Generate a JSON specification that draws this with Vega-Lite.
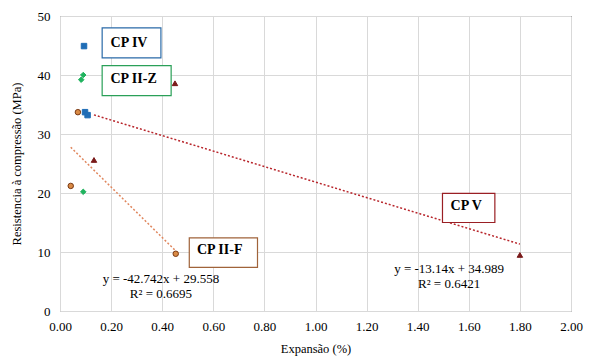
{
  "$schema": "https://vega.github.io/schema/vega-lite/v6.json",
  "autosize": "none",
  "width": 511,
  "height": 295,
  "padding": {"left": 60, "top": 16, "right": 18, "bottom": 46},
  "background": "white",
  "config": {
    "view": {"stroke": "black", "strokeWidth": 1},
    "font": "Liberation Serif",
    "axis": {
      "labelFont": "Liberation Serif",
      "titleFont": "Liberation Serif",
      "labelFontSize": 13,
      "titleFontSize": 12.5,
      "titleFontWeight": "normal",
      "labelColor": "#000",
      "titleColor": "#000",
      "gridColor": "#d9d9d9",
      "domainColor": "#d9d9d9",
      "ticks": false,
      "labelOverlap": false,
      "labelFlush": false
    }
  },
  "datasets": {
    "points": [
      {"serie": "CP IV", "exp": 0.094, "res": 44.9},
      {"serie": "CP IV", "exp": 0.098, "res": 33.7},
      {"serie": "CP IV", "exp": 0.108, "res": 33.2},
      {"serie": "CP II-Z", "exp": 0.091, "res": 40.0},
      {"serie": "CP II-Z", "exp": 0.083, "res": 39.2},
      {"serie": "CP II-Z", "exp": 0.091, "res": 20.2},
      {"serie": "CP II-F", "exp": 0.07, "res": 33.7},
      {"serie": "CP II-F", "exp": 0.042, "res": 21.2},
      {"serie": "CP II-F", "exp": 0.453, "res": 9.7},
      {"serie": "CP V", "exp": 0.45, "res": 38.6},
      {"serie": "CP V", "exp": 0.133, "res": 25.6},
      {"serie": "CP V", "exp": 1.8, "res": 9.5}
    ],
    "trends": [
      {"serie": "CP II-F", "exp": 0.042, "res": 27.76},
      {"serie": "CP II-F", "exp": 0.453, "res": 10.19},
      {"serie": "CP V", "exp": 0.133, "res": 33.24},
      {"serie": "CP V", "exp": 1.8, "res": 11.34}
    ],
    "boxes": [
      {"serie": "CP IV", "x1": 0.165, "x2": 0.395, "y1": 42.9, "y2": 48.0, "tx": 0.27, "ty": 45.5},
      {"serie": "CP II-Z", "x1": 0.165, "x2": 0.435, "y1": 36.5, "y2": 41.6, "tx": 0.288, "ty": 39.4},
      {"serie": "CP II-F", "x1": 0.506, "x2": 0.773, "y1": 7.4, "y2": 12.4, "tx": 0.625, "ty": 10.3},
      {"serie": "CP V", "x1": 1.497, "x2": 1.702, "y1": 15.0, "y2": 19.95, "tx": 1.59, "ty": 17.75}
    ],
    "eqs": [
      {"label": "y = -42.742x + 29.558", "x": 0.395, "y": 5.4},
      {"label": "R² = 0.6695", "x": 0.395, "y": 2.8},
      {"label": "y = -13.14x + 34.989", "x": 1.523, "y": 7.2},
      {"label": "R² = 0.6421", "x": 1.523, "y": 4.55}
    ]
  },
  "layer": [
    {
      "data": {"name": "trends"},
      "mark": {"type": "line", "strokeDash": [2, 2], "strokeWidth": 1.5},
      "encoding": {
        "x": {"field": "exp", "type": "quantitative", "scale": {"domain": [0, 2], "padding": 0, "nice": false},
          "axis": {"title": "Expansão (%)", "format": ".2f", "values": [0,0.2,0.4,0.6,0.8,1,1.2,1.4,1.6,1.8,2], "labelPadding": 9, "titlePadding": 9}},
        "y": {"field": "res", "type": "quantitative", "scale": {"domain": [0, 50], "padding": 0, "nice": false},
          "axis": {"title": "Resistencia à compressão (MPa)", "values": [0,5,10,15,20,25,30,35,40,45,50], "labelPadding": 10, "titlePadding": 14}},
        "detail": {"field": "serie"},
        "color": {"field": "serie", "type": "nominal", "legend": null,
          "scale": {"domain": ["CP II-F", "CP V"], "range": ["#e0875e", "#b8262c"]}}
      }
    },
    {
      "data": {"name": "boxes"},
      "mark": {"type": "rect", "fill": "white", "strokeWidth": 1.2},
      "encoding": {
        "x": {"field": "x1", "type": "quantitative"},
        "x2": {"field": "x2"},
        "y": {"field": "y1", "type": "quantitative"},
        "y2": {"field": "y2"},
        "stroke": {"field": "serie", "type": "nominal", "legend": null,
          "scale": {"domain": ["CP IV", "CP II-Z", "CP II-F", "CP V"], "range": ["#2a6aa8", "#2aa058", "#a0633a", "#9a1f24"]}}
      }
    },
    {
      "data": {"name": "boxes"},
      "mark": {"type": "text", "font": "Liberation Serif", "fontWeight": "bold", "fontSize": 14, "color": "black"},
      "encoding": {
        "x": {"field": "tx", "type": "quantitative"},
        "y": {"field": "ty", "type": "quantitative"},
        "text": {"field": "serie"}
      }
    },
    {
      "data": {"name": "eqs"},
      "mark": {"type": "text", "font": "Liberation Serif", "fontSize": 13, "color": "black"},
      "encoding": {
        "x": {"field": "x", "type": "quantitative"},
        "y": {"field": "y", "type": "quantitative"},
        "text": {"field": "label"}
      }
    },
    {
      "data": {"name": "points"},
      "mark": {"type": "point", "filled": true, "opacity": 1, "strokeWidth": 1},
      "encoding": {
        "x": {"field": "exp", "type": "quantitative"},
        "y": {"field": "res", "type": "quantitative"},
        "shape": {"field": "serie", "type": "nominal", "legend": null,
          "scale": {"domain": ["CP IV", "CP II-Z", "CP II-F", "CP V"], "range": ["square", "diamond", "circle", "triangle-up"]}},
        "fill": {"field": "serie", "type": "nominal", "legend": null,
          "scale": {"domain": ["CP IV", "CP II-Z", "CP II-F", "CP V"], "range": ["#1f6db6", "#1fb35e", "#d98a45", "#7a1a1a"]}},
        "stroke": {"field": "serie", "type": "nominal", "legend": null,
          "scale": {"domain": ["CP IV", "CP II-Z", "CP II-F", "CP V"], "range": ["#1f6db6", "#1fb35e", "#7a3a14", "#7a1a1a"]}},
        "size": {"field": "serie", "type": "nominal", "legend": null,
          "scale": {"domain": ["CP IV", "CP II-Z", "CP II-F", "CP V"], "range": [30, 30, 45, 45]}}
      }
    }
  ],
  "resolve": {"scale": {"color": "independent", "stroke": "independent"}}
}
